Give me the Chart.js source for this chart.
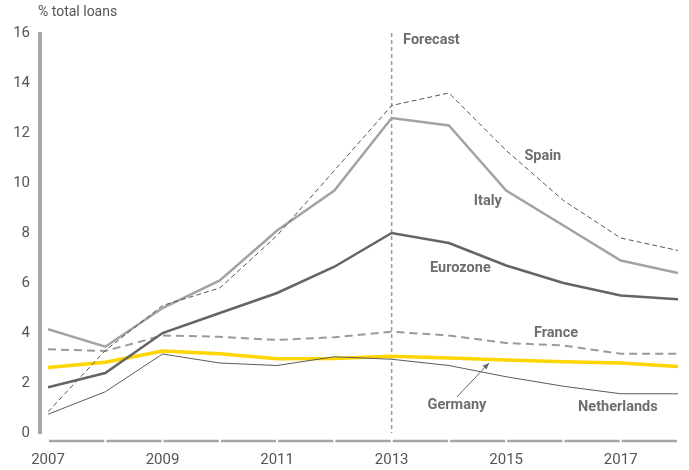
<!DOCTYPE html>
<html>
<head>
<meta charset="utf-8">
<script src="https://cdn.jsdelivr.net/npm/chart.js@4/dist/chart.umd.min.js"></script>
<style>
  html, body { margin: 0; padding: 0; background: #fff; }
  #wrap { width: 689px; height: 470px; }
</style>
</head>
<body>
<div id="wrap"><canvas id="chart"></canvas></div>
<script>
// years on x axis
var years = [2007, 2008, 2009, 2010, 2011, 2012, 2013, 2014, 2015, 2016, 2017, 2018];
var tickYears = [2007, 2009, 2011, 2013, 2015, 2017];
var forecastYear = 2013;

// non-performing loans, % total loans
var spain       = [0.85, 3.3, 5.1, 5.8, 7.9, 10.5, 13.1, 13.6, 11.3, 9.3, 7.8, 7.3];
var italy       = [4.15, 3.45, 5.0, 6.1, 8.1, 9.7, 12.6, 12.3, 9.7, 8.3, 6.9, 6.4];
var eurozone    = [1.83, 2.4, 4.0, 4.8, 5.6, 6.65, 8.0, 7.6, 6.7, 6.0, 5.5, 5.35];
var france      = [3.35, 3.28, 3.9, 3.85, 3.72, 3.83, 4.05, 3.9, 3.6, 3.5, 3.17, 3.17];
var germany     = [2.62, 2.83, 3.28, 3.17, 2.97, 2.98, 3.07, 3.0, 2.92, 2.85, 2.8, 2.66];
var netherlands = [0.75, 1.65, 3.16, 2.8, 2.7, 3.05, 2.95, 2.7, 2.25, 1.87, 1.57, 1.57];

var FONT = 'Roboto, "DejaVu Sans", sans-serif';

// label text, x (year), y (value), alignment
var seriesLabels = [
  ['Spain', 2015.64, 11.08, 'center'],
  ['Italy', 2014.68, 9.28, 'center'],
  ['Eurozone', 2014.2, 6.6, 'center'],
  ['France', 2015.87, 4.0, 'center'],
  ['Germany', 2014.14, 1.12, 'center'],
  ['Netherlands', 2016.95, 1.04, 'center'],
  ['Forecast', 2013.2, 15.7, 'left']
];

var decor = {
  id: 'decor',
  beforeDatasetsDraw: function(chart) {
    var c = chart.ctx, xs = chart.scales.x, ys = chart.scales.y;
    c.save();
    c.strokeStyle = '#a6a6a6';
    c.lineWidth = 4;
    // y axis bar, split at every tick
    var yx = chart.chartArea.left - 8;
    for (var v = 0; v < 16; v += 2) {
      c.beginPath();
      c.moveTo(yx, ys.getPixelForValue(v) + 1);
      c.lineTo(yx, ys.getPixelForValue(v + 2) - 1);
      c.stroke();
    }
    // x axis bar, split at every year
    c.lineWidth = 2.5;
    var xy = chart.chartArea.bottom + 8;
    for (var i = 0; i < years.length - 1; i++) {
      c.beginPath();
      c.moveTo(xs.getPixelForValue(years[i]) + 1, xy);
      c.lineTo(xs.getPixelForValue(years[i + 1]) - 1, xy);
      c.stroke();
    }
    // forecast line
    c.strokeStyle = '#9a9a9a';
    c.lineWidth = 1.5;
    c.setLineDash([4, 3]);
    var fx = xs.getPixelForValue(forecastYear);
    c.beginPath();
    c.moveTo(fx, ys.getPixelForValue(16));
    c.lineTo(fx, ys.getPixelForValue(0));
    c.stroke();
    c.restore();
  },
  afterDatasetsDraw: function(chart) {
    var c = chart.ctx, xs = chart.scales.x, ys = chart.scales.y;
    c.save();
    c.fillStyle = '#6e6e6e';
    c.font = 'bold 14.5px ' + FONT;
    c.textBaseline = 'middle';
    seriesLabels.forEach(function(l) {
      c.textAlign = l[3];
      c.fillText(l[0], xs.getPixelForValue(l[1]), ys.getPixelForValue(l[2]));
    });
    // arrow from Germany label to its line
    var x1 = xs.getPixelForValue(2014.14), y1 = ys.getPixelForValue(1.44);
    var x2 = xs.getPixelForValue(2014.7), y2 = ys.getPixelForValue(2.8);
    c.strokeStyle = '#666';
    c.lineWidth = 1;
    c.beginPath();
    c.moveTo(x1, y1);
    c.lineTo(x2, y2);
    c.stroke();
    var a = Math.atan2(y2 - y1, x2 - x1);
    c.beginPath();
    c.moveTo(x2, y2);
    c.lineTo(x2 - 7 * Math.cos(a - 0.4), y2 - 7 * Math.sin(a - 0.4));
    c.lineTo(x2 - 7 * Math.cos(a + 0.4), y2 - 7 * Math.sin(a + 0.4));
    c.closePath();
    c.fillStyle = '#666';
    c.fill();
    // axis title
    c.font = '14px ' + FONT;
    c.fillStyle = '#555';
    c.textAlign = 'left';
    c.fillText('% total loans', chart.chartArea.left - 10, 12);
    c.restore();
  }
};

function line(label, data, color, width, dash) {
  return {
    label: label,
    data: data,
    borderColor: color,
    borderWidth: width,
    borderDash: dash || [],
    pointRadius: 0,
    tension: 0,
    fill: false
  };
}

new Chart(document.getElementById('chart'), {
  type: 'line',
  data: {
    labels: years,
    datasets: [
      line('Spain', spain, '#555555', 1, [5, 3]),
      line('Italy', italy, '#a3a3a3', 2.5),
      line('Eurozone', eurozone, '#646464', 2.5),
      line('France', france, '#9a9a9a', 2, [8, 5]),
      line('Netherlands', netherlands, '#5a5a5a', 1),
      line('Germany', germany, '#ffd500', 3.5)
    ]
  },
  options: {
    responsive: true,
    maintainAspectRatio: false,
    animation: false,
    layout: { padding: { top: 33, right: 11, bottom: 0, left: 0 } },
    plugins: { legend: { display: false }, tooltip: { enabled: false } },
    scales: {
      x: {
        type: 'linear',
        min: 2007,
        max: 2018,
        afterBuildTicks: function(axis) {
          axis.ticks = tickYears.map(function(y) { return { value: y }; });
        },
        afterFit: function(axis) { axis.height = 37; },
        grid: { display: false, drawTicks: false },
        border: { display: false },
        ticks: {
          autoSkip: false,
          maxRotation: 0,
          padding: 18,
          color: '#555',
          font: { family: FONT, size: 15 },
          callback: function(v) { return String(v); }
        }
      },
      y: {
        min: 0,
        max: 16,
        afterFit: function(axis) { axis.width = 48; },
        grid: { display: false, drawTicks: false },
        border: { display: false },
        ticks: {
          stepSize: 2,
          padding: 18,
          color: '#555',
          font: { family: FONT, size: 15 }
        }
      }
    }
  },
  plugins: [decor]
});
</script>
</body>
</html>
